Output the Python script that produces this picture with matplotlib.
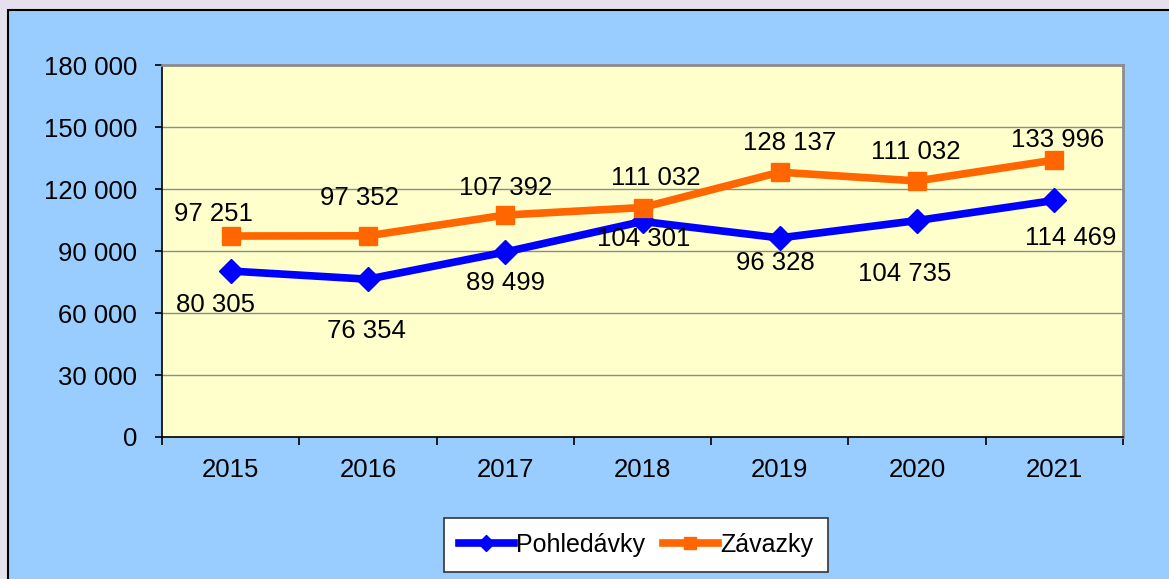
import matplotlib
matplotlib.use("Agg")
import matplotlib.pyplot as plt
from matplotlib.patches import Rectangle
from matplotlib.ticker import FuncFormatter, MultipleLocator

years = ["2015", "2016", "2017", "2018", "2019", "2020", "2021"]
pohledavky = [80305, 76354, 89499, 104301, 96328, 104735, 114469]
zavazky = [97251, 97352, 107392, 111032, 128137, 123900, 133996]
# the source chart labels the 2020 point "111 032"
zavazky_labels = [97251, 97352, 107392, 111032, 128137, 111032, 133996]

# label offsets in pixels, as placed in the original chart
poh_offsets = [(-15, -34), (-1, -52), (0, -31), (1, -18), (-4, -25), (-12, -53), (16, -38)]
zav_offsets = [(-17, 22), (-8, 38), (0, 27), (13, 30), (10, 29), (-1, 29), (3, 20)]

plt.rcParams["font.family"] = ["Liberation Sans", "DejaVu Sans"]

W, H = 1169, 579
fig = plt.figure(figsize=(W / 100, H / 100), dpi=100)
fig.patch.set_facecolor("#E6E0EC")
fig.patches.append(Rectangle((8 / W, -0.1), 1.2, 1 - 10 / H + 0.1, transform=fig.transFigure,
                             facecolor="#99CCFF", edgecolor="black", linewidth=1.5, zorder=-10))

ax = fig.add_axes([162 / W, 1 - 437 / H, (1123 - 162) / W, (437 - 65) / H])
ax.set_facecolor("#FFFFCC")

x = list(range(len(years)))
fmt = lambda v: f"{int(v):,}".replace(",", " ")
fs = 18.5

ax.plot(x, pohledavky, color="#0000FF", lw=5.5, marker="D", ms=12, label="Pohledávky", zorder=3)
ax.plot(x, zavazky, color="#FF6600", lw=5.5, marker="s", ms=13, label="Závazky", zorder=3)

for i, v in enumerate(pohledavky):
    ax.annotate(fmt(v), (i, v), xytext=poh_offsets[i], textcoords="offset pixels",
                ha="center", va="center", fontsize=fs, color="black", zorder=4)
for i, v in enumerate(zavazky):
    ax.annotate(fmt(zavazky_labels[i]), (i, v), xytext=zav_offsets[i], textcoords="offset pixels",
                ha="center", va="center", fontsize=fs, color="black", zorder=4)

ax.set_xlim(-0.5, len(years) - 0.5)
ax.set_ylim(0, 180000)
ax.yaxis.set_major_locator(MultipleLocator(30000))
ax.yaxis.set_major_formatter(FuncFormatter(lambda v, p: fmt(v)))
ax.set_xticks(x)
ax.set_xticklabels(years)
ax.set_xticks([i - 0.5 for i in range(len(years) + 1)], minor=True)
ax.tick_params(axis="x", which="major", length=0, pad=15, labelsize=fs)
ax.tick_params(axis="x", which="minor", length=6, width=1.2, direction="out")
ax.tick_params(axis="y", length=5, width=1.2, direction="out", pad=13, labelsize=fs)
ax.grid(axis="y", color="#8C8C8C", lw=1)
ax.set_axisbelow(True)
for s in ("top", "right"):
    ax.spines[s].set_color("#8C8C8C")
    ax.spines[s].set_linewidth(2)
for s in ("left", "bottom"):
    ax.spines[s].set_color("black")
    ax.spines[s].set_linewidth(1.2)

leg = ax.legend(loc="center", bbox_to_anchor=(636 / W, 1 - 545 / H), bbox_transform=fig.transFigure,
                ncol=2, fontsize=18, frameon=True, fancybox=False, edgecolor="#333333",
                framealpha=1, facecolor="white", handlelength=2.2, handletextpad=0.1,
                columnspacing=0.7, borderpad=0.6)
leg.get_frame().set_linewidth(1.2)
for h in leg.legend_handles:
    h.set_markersize(8)

fig.savefig("out.png", dpi=100, facecolor=fig.get_facecolor())
